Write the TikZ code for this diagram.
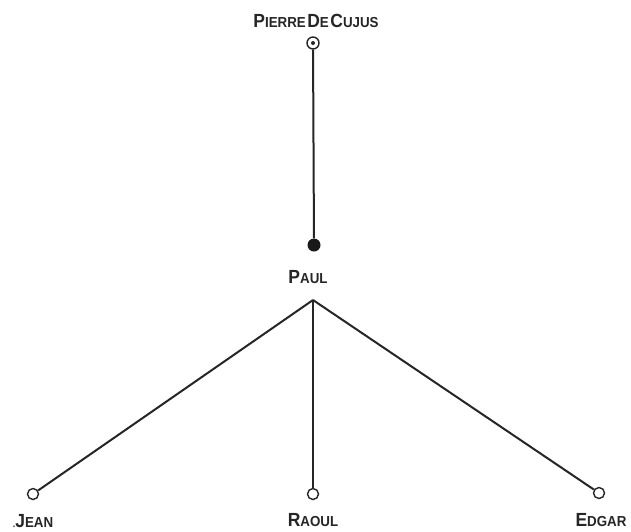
\documentclass[tikz,border=0pt]{standalone}
\usepackage{fontspec}
\setmainfont{Liberation Sans}
\newcommand\capword[2]{{\fontsize{19}{19}\selectfont #1}{\fontsize{14.5}{14.5}\selectfont #2}}
\begin{document}
\begin{tikzpicture}[x=1pt,y=-1pt,
  line/.style={draw=black!85,line width=2pt},
  opencirc/.style={circle,draw=black!85,line width=1.4pt,fill=white,minimum size=11pt,inner sep=0pt},
  filledcirc/.style={circle,fill=black!90,minimum size=13pt,inner sep=0pt},
  lab/.style={inner sep=0pt,text=black!85,font=\bfseries}]
\fill[white] (0,0) rectangle (631,531);
\useasboundingbox (0,0) rectangle (631,531);
% nodes
\node[lab] (pierre) at (316,21) {\scalebox{0.92}[1]{\capword{P}{IERRE}\,\capword{D}{E}\,\capword{C}{UJUS}}};
\node[opencirc,minimum size=12pt] (pc) at (313,43) {};
\node[circle,fill=black!85,minimum size=4pt,inner sep=0pt] (pcdot) at (313,43) {};
\node[filledcirc] (paul) at (314,245) {};
\node[lab] (paullab) at (308,277) {\scalebox{0.92}[1]{\capword{P}{AUL}}};
\coordinate (apex) at (313,300);
\node[opencirc] (jean) at (33,494) {};
\node[opencirc] (raoul) at (313,494) {};
\node[opencirc] (edgar) at (599,493) {};
\node[lab] (jeanlab) at (33,521) {\scalebox{0.92}[1]{.\capword{J}{EAN}}};
\node[lab] (raoullab) at (313,520) {\scalebox{0.92}[1]{\capword{R}{AOUL}}};
\node[lab] (edgarlab) at (601,520) {\scalebox{0.92}[1]{\capword{E}{DGAR}}};
% connectors
\draw[line] (pc) -- (paul);
\draw[line] (apex) -- (jean);
\draw[line] (apex) -- (raoul);
\draw[line] (apex) -- (edgar);
\end{tikzpicture}
\end{document}
